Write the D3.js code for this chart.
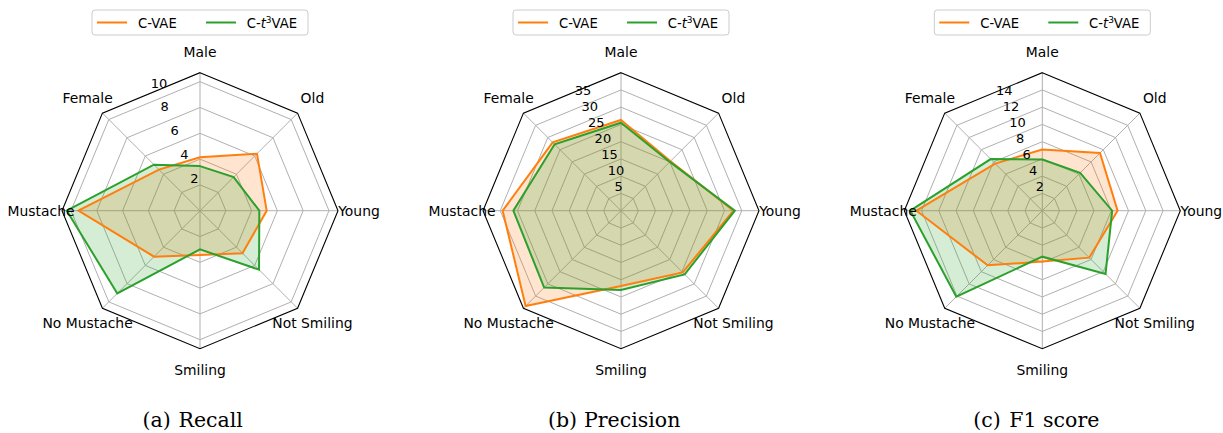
<!doctype html>
<html lang="en">
<head>
<meta charset="utf-8">
<title>Radar charts - Recall / Precision / F1</title>
<script src="https://cdn.jsdelivr.net/npm/d3@7"></script>
<style>
  html, body { margin: 0; padding: 0; background: #fff; }
  svg { display: block; font-family: "DejaVu Sans", sans-serif; }
</style>
</head>
<body>
<svg id="chart" width="1223" height="433"></svg>
<script>
// axes, clockwise from the top
const categories = ["Male", "Old", "Young", "Not Smiling", "Smiling", "No Mustache", "Mustache", "Female"];
const seriesNames = ["C-VAE", "C-t3VAE"];

// (a) recall
const recallCVAE   = [4.14, 6.25, 5.17, 4.66, 3.43, 5.04, 9.43, 4.5];
const recallCt3VAE = [3.46, 3.69, 4.6, 6.47, 3.0, 9.07, 10.33, 5.05];
const recallTicks  = [2, 4, 6, 8, 10];

// (b) precision
const precisionCVAE   = [26.3, 20.3, 32.6, 25.3, 21.8, 39.1, 34.3, 28.0];
const precisionCt3VAE = [25.5, 20.0, 33.0, 26.1, 23.0, 31.5, 31.2, 27.2];
const precisionTicks  = [5, 10, 15, 20, 25, 30, 35];

// (c) F1 score
const f1CVAE   = [7.1, 9.46, 8.73, 7.7, 5.9, 8.96, 14.6, 7.73];
const f1Ct3VAE = [5.93, 6.2, 8.1, 10.37, 5.33, 14.1, 15.3, 8.46];
const f1Ticks  = [2, 4, 6, 8, 10, 12, 14];

const panelLetters = ["(a)", "(b)", "(c)"];
const panelTitles  = ["Recall", "Precision", "F1 score"];
const radialMax    = [10.7, 40, 16];

const colors = ["#ff7f0e", "#2ca02c"];

const panels = [
  {cx: 200,    series: [recallCVAE, recallCt3VAE],       ticks: recallTicks,    capX: 142.5},
  {cx: 621,    series: [precisionCVAE, precisionCt3VAE], ticks: precisionTicks, capX: 548},
  {cx: 1042.3, series: [f1CVAE, f1Ct3VAE],               ticks: f1Ticks,        capX: 973.3}
];

const svg = d3.select("#chart");
const cy = 210.7, R = 138;
const angle = d3.scalePoint().domain(d3.range(categories.length + 1)).range([0, 2 * Math.PI]);

function pt(r, i) {
  const a = angle(i);
  return [r * Math.sin(a), -r * Math.cos(a)];
}

panels.forEach(function(p, k) {
  const rScale = d3.scaleLinear().domain([0, radialMax[k]]).range([0, R]);
  const g = svg.append("g").attr("transform", "translate(" + p.cx + "," + cy + ")");

  const ring = function(v) {
    return d3.range(categories.length).map(function(i) { return pt(rScale(v), i); });
  };
  const poly = d3.line().curve(d3.curveLinearClosed);

  // grid rings
  g.selectAll(".ring").data(p.ticks).enter()
    .append("path")
      .attr("d", function(v) { return poly(ring(v)); })
      .attr("fill", "none")
      .attr("stroke", "#b0b0b0")
      .attr("stroke-width", 1);

  // spokes
  g.selectAll(".spoke").data(categories).enter()
    .append("line")
      .attr("x1", 0).attr("y1", 0)
      .attr("x2", function(d, i) { return pt(R, i)[0]; })
      .attr("y2", function(d, i) { return pt(R, i)[1]; })
      .attr("stroke", "#b0b0b0")
      .attr("stroke-width", 1);

  // outer frame
  g.append("path")
    .attr("d", poly(ring(radialMax[k])))
    .attr("fill", "none")
    .attr("stroke", "#000")
    .attr("stroke-width", 1.1);

  // data
  p.series.forEach(function(vals, s) {
    const pts = vals.map(function(v, i) { return pt(rScale(v), i); });
    g.append("path")
      .attr("d", poly(pts))
      .attr("fill", colors[s])
      .attr("fill-opacity", 0.2)
      .attr("stroke", "none");
  });
  p.series.forEach(function(vals, s) {
    const pts = vals.map(function(v, i) { return pt(rScale(v), i); });
    g.append("path")
      .attr("d", poly(pts))
      .attr("fill", "none")
      .attr("stroke", colors[s])
      .attr("stroke-width", 2)
      .attr("stroke-linejoin", "miter");
  });

  // radial tick labels at 22.5 deg left of top
  const ta = -Math.PI / 8;
  g.selectAll(".rlabel").data(p.ticks).enter()
    .append("text")
      .attr("x", function(v) { return rScale(v) * Math.sin(ta); })
      .attr("y", function(v) { return -rScale(v) * Math.cos(ta) - 4; })
      .attr("font-size", 13)
      .attr("fill", "#000")
      .text(function(v) { return v; });

  // category labels
  g.selectAll(".clabel").data(categories).enter()
    .append("text")
      .attr("x", function(d, i) { return pt(159, i)[0]; })
      .attr("y", function(d, i) { return pt(159, i)[1]; })
      .attr("text-anchor", "middle")
      .attr("dominant-baseline", "central")
      .attr("font-size", 13.9)
      .attr("fill", "#000")
      .text(function(d) { return d; });

  // legend
  const lg = svg.append("g").attr("transform", "translate(" + p.cx + ",0)");
  lg.append("rect")
    .attr("x", -108).attr("y", 10).attr("width", 216).attr("height", 25)
    .attr("rx", 3)
    .attr("fill", "#fff").attr("fill-opacity", 0.8)
    .attr("stroke", "#cccccc").attr("stroke-width", 1);
  const items = [{x: -103, tx: -62}, {x: 6, tx: 46.7}];
  items.forEach(function(it, s) {
    lg.append("line")
      .attr("x1", it.x).attr("x2", it.x + 30)
      .attr("y1", 22.5).attr("y2", 22.5)
      .attr("stroke", colors[s]).attr("stroke-width", 2);
    const t = lg.append("text")
      .attr("x", it.tx).attr("y", 27.5)
      .attr("font-size", 13.2).attr("fill", "#000");
    if (s === 0) {
      t.text(seriesNames[0]);
    } else {
      t.append("tspan").text("C-");
      t.append("tspan").attr("font-style", "italic").text("t");
      t.append("tspan").attr("font-size", 9).attr("dy", -5).text("3");
      t.append("tspan").attr("dy", 5).text("VAE");
    }
  });

  // caption
  const cap = svg.append("text")
    .attr("y", 427)
    .attr("font-family", "'DejaVu Serif', serif")
    .attr("font-size", 20.5)
    .attr("fill", "#000");
  cap.append("tspan").attr("x", p.capX).text(panelLetters[k]);
  cap.append("tspan").attr("x", p.capX + 36).text(panelTitles[k]);
});
</script>
</body>
</html>
